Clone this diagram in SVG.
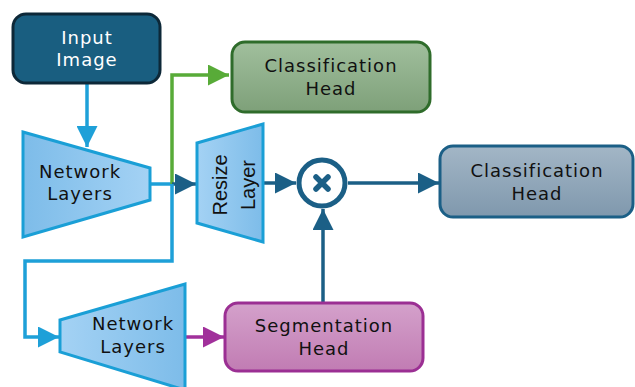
<svg xmlns="http://www.w3.org/2000/svg" width="635" height="387" viewBox="0 0 635 387">
<style>
text{font-family:"DejaVu Sans","Liberation Sans",sans-serif;font-size:18px;fill:#111;text-anchor:middle;letter-spacing:1px}
.rot{font-family:"Liberation Sans",Arial,sans-serif;font-size:20px;letter-spacing:0}
.trap{stroke:#1a9fd6;stroke-width:3;stroke-linejoin:miter}
.ln{fill:none;stroke-width:3.5;stroke-linejoin:miter}
</style>
<defs>
<linearGradient id="gL" x1="0" y1="0" x2="1" y2="0"><stop offset="0" stop-color="#7dbce9"/><stop offset="1" stop-color="#a4d2f4"/></linearGradient>
<linearGradient id="gR" x1="0" y1="0" x2="1" y2="0"><stop offset="0" stop-color="#a4d2f4"/><stop offset="1" stop-color="#7dbce9"/></linearGradient>
<linearGradient id="gGreen" x1="0" y1="0" x2="0" y2="1"><stop offset="0" stop-color="#a1bf9d"/><stop offset="1" stop-color="#7ea079"/></linearGradient>
<linearGradient id="gGrey" x1="0" y1="0" x2="0" y2="1"><stop offset="0" stop-color="#a3b6c6"/><stop offset="1" stop-color="#7f98ad"/></linearGradient>
<linearGradient id="gPurp" x1="0" y1="0" x2="0" y2="1"><stop offset="0" stop-color="#d4a1cb"/><stop offset="1" stop-color="#c17cb3"/></linearGradient>
<marker id="aCyan" viewBox="0 0 10 10" refX="10" refY="5" markerWidth="6" markerHeight="6" orient="auto"><path d="M0,0L10,5L0,10z" fill="#1ea0d8"/></marker>
<marker id="aDark" viewBox="0 0 10 10" refX="10" refY="5" markerWidth="6" markerHeight="6" orient="auto"><path d="M0,0L10,5L0,10z" fill="#1b5f86"/></marker>
<marker id="aGreen" viewBox="0 0 10 10" refX="10" refY="5" markerWidth="6" markerHeight="6" orient="auto"><path d="M0,0L10,5L0,10z" fill="#58ab38"/></marker>
<marker id="aPurp" viewBox="0 0 10 10" refX="10" refY="5" markerWidth="6" markerHeight="6" orient="auto"><path d="M0,0L10,5L0,10z" fill="#a1309b"/></marker>
</defs>

<g id="connectors">
<path class="ln" d="M87,83V147" stroke="#1ea0d8" marker-end="url(#aCyan)"/>
<path class="ln" d="M150,184H173" stroke="#1ea0d8"/>
<path class="ln" d="M172,184V75H229" stroke="#58ab38" marker-end="url(#aGreen)"/>
<path class="ln" d="M172,184H196" stroke="#1b5f86" marker-end="url(#aDark)"/>
<path class="ln" d="M172,184V261H25V337H59" stroke="#1ea0d8" marker-end="url(#aCyan)"/>
<path class="ln" d="M263,183H296" stroke="#1b5f86" marker-end="url(#aDark)"/>
<path class="ln" d="M348,183H439" stroke="#1b5f86" marker-end="url(#aDark)"/>
<path class="ln" d="M323,302V209" stroke="#1b5f86" marker-end="url(#aDark)"/>
<path class="ln" d="M186,337H224" stroke="#a1309b" marker-end="url(#aPurp)"/>
</g>

<g id="input-image">
<rect x="13" y="14" width="147" height="69" rx="13" fill="#195e80" stroke="#0d2838" stroke-width="3"/>
<text x="87" y="44" style="fill:#fff">Input</text>
<text x="87" y="66" style="fill:#fff">Image</text>
</g>

<g id="network-layers-1">
<polygon class="trap" points="23,132 150,168 150,200 23,237" fill="url(#gL)"/>
<text x="80" y="178">Network</text>
<text x="80" y="200">Layers</text>
</g>

<g id="classification-head-1">
<rect x="232" y="42" width="198" height="70" rx="13" fill="url(#gGreen)" stroke="#2f6c2b" stroke-width="3"/>
<text x="331" y="72">Classification</text>
<text x="331" y="95">Head</text>
</g>

<g id="resize-layer">
<polygon class="trap" points="197,143 263,124 263,242 197,223" fill="url(#gR)"/>
<text class="rot" transform="translate(227,185) rotate(-90)">Resize</text>
<text class="rot" transform="translate(255,185) rotate(-90)">Layer</text>
</g>

<g id="multiply">
<circle cx="322" cy="183" r="23" fill="#fff" stroke="#1b5f86" stroke-width="5"/>
<path d="M316,177L328,189M328,177L316,189" stroke="#1b5f86" stroke-width="5.5" stroke-linecap="round"/>
</g>

<g id="classification-head-2">
<rect x="440" y="146" width="193" height="71" rx="13" fill="url(#gGrey)" stroke="#1b5f86" stroke-width="3"/>
<text x="537" y="177">Classification</text>
<text x="537" y="200">Head</text>
</g>

<g id="network-layers-2">
<polygon class="trap" points="60,320 185,284 185,390 60,352" fill="url(#gR)"/>
<text x="133" y="330">Network</text>
<text x="133" y="353">Layers</text>
</g>

<g id="segmentation-head">
<rect x="225" y="303" width="198" height="68" rx="13" fill="url(#gPurp)" stroke="#9b2f93" stroke-width="3"/>
<text x="324" y="332">Segmentation</text>
<text x="324" y="355">Head</text>
</g>
</svg>
